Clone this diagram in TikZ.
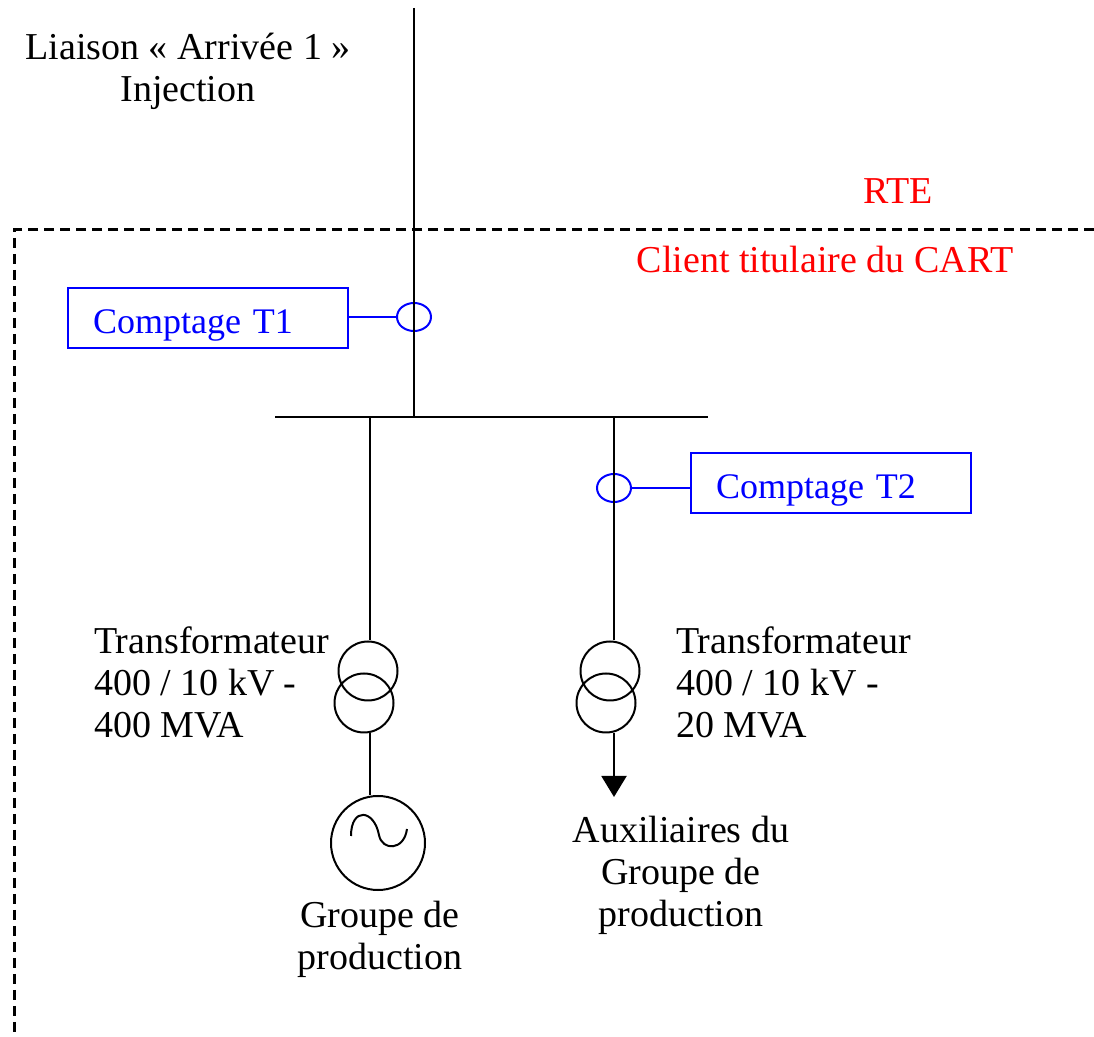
\documentclass[tikz,border=0pt]{standalone}
\usepackage{fontspec}
\setmainfont{Liberation Serif}
\usetikzlibrary{positioning, shapes.geometric, arrows.meta}

\begin{document}
\begin{tikzpicture}[x=0.5pt, y=-0.5pt, line width=1pt,
        font=\fontsize{19}{21}\selectfont,
        meter box/.style={rectangle, draw=blue, line width=1pt, text=blue,
        font=\fontsize{18}{21}\selectfont,
        minimum height=30pt, text width=115pt, text height=16pt, text depth=0pt,
        inner xsep=12.5pt, align=left},
        meter/.style={ellipse, draw=blue, line width=1pt, minimum width=17pt,
        minimum height=14pt, inner sep=0pt},
        winding/.style={circle, draw, minimum size=29.5pt, inner sep=0pt},
        label text/.style={inner sep=0pt, align=left},
        red text/.style={text=red, inner sep=0pt},
        boundary/.style={line width=1.5pt, dash pattern=on 5pt off 3pt}]
        \useasboundingbox (0,0) rectangle (1094,1037);

        \node[align=center] (liaison) at (188,71) {Liaison « Arrivée 1 »\\Injection};
        \node[red text] (rte) at (898,191) {RTE};
        \node[red text] (client) at (825,260) {Client titulaire du CART};

        \coordinate (in) at (414,8);
        \coordinate (bus west) at (275,417);
        \coordinate (bus east) at (708,417);
        \coordinate (bus in) at (414,417);
        \coordinate (bus left) at (370,417);
        \coordinate (bus right) at (614,417);

        \node[meter] (meter1) at (414,317) {};
        \node[meter box, anchor=east] (count1) at (349,318) {Comptage T1};
        \node[meter] (meter2) at (614,488) {};
        \node[meter box, anchor=west] (count2) at (690,483) {Comptage T2};

        \node[winding] (tr1 hv) at (368,671) {};
        \node[winding] (tr1 lv) at (364,703) {};
        \node[circle, draw, minimum size=47pt, inner sep=0pt] (gen) at (378,843) {};
        \node[winding] (tr2 hv) at (610,671) {};
        \node[winding] (tr2 lv) at (606,703) {};
        \coordinate (aux) at (614,797);

        \node[label text, anchor=west] (tr1 text) at (93,682) {Transformateur\\400 / 10 kV -\\400 MVA};
        \node[label text, anchor=west] (tr2 text) at (675,682) {Transformateur\\400 / 10 kV -\\20 MVA};
        \node[align=center] (gen text) at (380,939) {Groupe de\\production};
        \node[align=center] (aux text) at (681,875) {Auxiliaires du\\Groupe de\\production};

        % limite RTE / client
        \draw[boundary] (1094,230) -- (14,230) -- (14,1037);

        \draw (in) -- (bus in);
        \draw (bus west) -- (bus east);
        \draw[blue, line width=1pt] (count1.east |- meter1.west) -- (meter1.west);
        \draw[blue, line width=1pt] (meter2.east) -- (meter2.east -| count2.west);

        \draw (bus left) -- (bus left |- tr1 hv.north);
        \draw (bus left |- tr1 lv.south) -- (bus left |- gen.north);
        \draw[shift={(gen.center)}] (-27,-7) .. controls (-27,-36) and (-4,-34) .. (1,-8)
            .. controls (4,8) and (26,8) .. (29,-14);

        \draw (bus right) -- (bus right |- tr2 hv.north);
        \draw[-{Triangle[width=12.5pt, length=10.5pt]}] (bus right |- tr2 lv.south) -- (aux);
    \end{tikzpicture}
\end{document}
